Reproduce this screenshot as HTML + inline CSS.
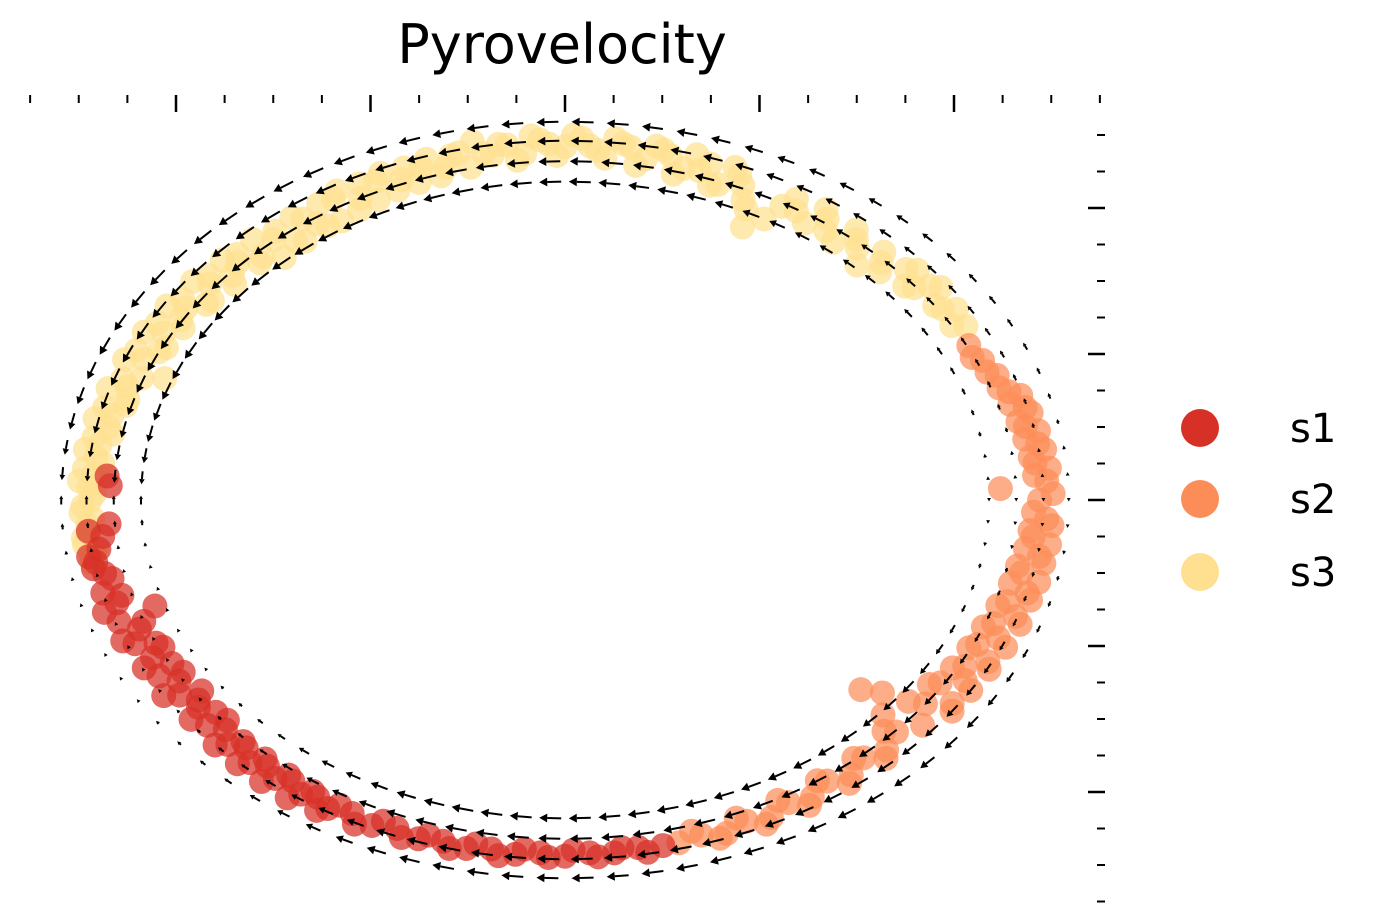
<!DOCTYPE html>
<html><head><meta charset="utf-8"><style>
html,body{margin:0;padding:0;background:#fff;width:1387px;height:923px;overflow:hidden}
svg{display:block}
text{font-family:"DejaVu Sans","Liberation Sans",sans-serif}
</style></head><body>
<svg id="chart" width="1387" height="923" viewBox="0 0 1387 923" xmlns="http://www.w3.org/2000/svg">
<text x="562" y="63" font-size="54" text-anchor="middle" fill="#000">Pyrovelocity</text>
<g id="ticks"></g>
<g id="points"></g>
<g id="arrows"></g>
<g>
 <g><circle cx="1200" cy="428" r="19" fill="#d73027"/><text x="1290" y="442" font-size="40">s1</text></g>
 <g><circle cx="1200" cy="499" r="19" fill="#fc8d59"/><text x="1290" y="513" font-size="40">s2</text></g>
 <g><circle cx="1200" cy="572" r="19" fill="#fee090"/><text x="1290" y="586" font-size="40">s3</text></g>
</g>
</svg>
<script>
// data: polar embedding coordinates (angle in degrees, radius in data units) around center (20,20)
const s1Angles=[185,188,190,193,195,197,199,200,202,204,205,207,209,210,212,214,215,217,219,220,222,224,226,228,230,232,234,236,238,240,243,246,249,252,255,258,261,264,267,270,273,276,279,282,177.6,176,184,191];
const s1Radii=[24.6,24.2,24.5,23.9,24.6,24.1,22.3,24.4,23.6,24.2,23.2,23.8,23.1,24.1,23.4,23.9,22.8,23.6,23.1,24.0,23.5,24.1,23.6,24.2,23.8,24.2,23.8,24.3,24.0,24.4,24.1,24.4,24.1,24.4,24.2,24.4,24.2,24.4,24.2,24.4,24.2,24.3,24.1,24.2,23.4,23.6,23.5,24.7];
const s1bAngles=[186,189,192,196,198,201,203,206,208,211,213,216,218,221,223,225,227,229,231,233,235,237,239,241,244,247,250,253,256,259,262,265,268,271,274,277,280];
const s1bRadii=[23.9,24.8,24.2,23.7,24.9,23.2,24.7,23.0,24.5,22.9,24.6,23.3,24.4,23.0,24.6,23.4,24.7,23.5,24.8,23.6,24.9,23.8,24.8,23.9,24.7,23.9,24.6,24.0,24.6,24.0,24.6,24.0,24.5,24.0,24.5,24.0,24.5];
const s2Angles=[284,287,290,293,296,299,302,305,308,311,314,317,319.5,321,318,320,323,325,327,329,331,333,335,337,339,341,343,345,348,351,354,357,0,3,6,9,12,15,18,21,24,27,2];
const s2Radii=[24.2,24.0,24.3,23.9,24.2,23.7,24.0,23.5,23.9,23.4,23.8,23.3,20.0,21.0,22.0,24.0,23.2,24.3,23.0,24.0,23.5,24.4,23.4,24.2,23.6,24.5,23.8,24.6,24.0,24.7,24.2,24.8,24.4,24.8,24.3,24.6,24.2,24.5,24.0,23.8,23.5,23.3,22.4];
const s2bAngles=[286,289,292,295,298,301,304,307,310,313,316,322,324,326,328,330,332,334,336,338,340,342,344,346,347,349,350,352,353,355,356,358,1,4,5,7,8,10,11,13,14,16,17,19,22,25];
const s2bRadii=[23.6,24.5,23.5,24.5,23.3,24.4,23.2,24.3,23.1,24.2,22.8,22.4,24.6,22.6,24.6,23.0,24.7,23.1,24.8,23.2,24.9,23.4,24.9,23.6,25.0,23.7,25.0,23.9,25.1,24.0,25.1,24.1,25.1,24.2,25.0,24.1,24.9,24.0,24.8,23.9,24.7,23.8,24.5,23.6,23.4,23.1];
const s3Angles=[30,33,35,38,40,42,45,47,50,52,55,57,60,62,64,66,68,70,72,75,78,80,83,86,88,90,93,95,97,100,103,105,108,111,114,117,120,123,125,128,130,133,135,138,140,143,145,148,150,153,155,158,160,163,165,168,170,173,175,178,181,184,187,190];
const s3Radii=[23.8,24.0,23.2,23.8,22.8,23.6,23.0,22.0,23.3,22.4,23.5,22.6,23.8,21.8,20.8,22.5,24.0,23.0,24.2,23.5,24.5,23.7,24.6,24.0,24.8,24.2,24.7,23.8,24.5,24.1,24.4,23.6,24.0,23.5,23.9,23.2,23.8,22.4,23.5,22.5,23.3,22.8,23.8,23.0,23.9,22.7,24.0,23.3,24.2,23.0,24.3,22.2,24.2,23.5,24.5,24.0,24.6,24.3,24.8,24.5,24.8,24.6,24.9,24.7];
const s3bAngles=[31,34,37,39,41,44,46,49,51,54,56,59,61,65,67,69,71,73,74,76,77,79,81,82,84,85,87,89,91,92,94,96,98,99,101,102,104,106,107,109,110,112,113,115,116,118,119,121,122,124,126,127,129,131,132,134,136,137,139,141,142,144,146,147,149,151,152,154,156,157,159,161,162,164,166,167,169,171,172,174,176,177,179,180,182,183,185,186,188,189];
const s3bRadii=[23.2,23.4,24.2,23.1,24.0,22.5,23.6,22.9,23.8,22.8,24.0,23.1,23.0,22.0,23.4,24.4,22.8,23.6,24.6,23.0,24.2,24.7,23.2,24.4,24.9,23.5,24.3,25.0,23.6,24.4,25.0,23.4,24.6,23.9,25.0,23.3,24.3,23.1,24.4,23.0,24.2,22.9,24.3,22.7,24.1,22.5,24.2,22.3,23.9,22.8,23.9,22.2,23.7,22.0,24.0,22.6,23.4,24.1,22.5,23.5,24.3,22.8,23.5,24.4,22.9,23.6,24.5,23.2,23.7,24.6,23.3,23.8,24.7,23.5,24.0,24.8,23.7,24.2,24.9,23.9,24.3,25.0,24.2,24.4,24.9,24.3,24.5,24.9,24.4,24.6];
const arrowAngles=[0,4,8,12,16,20,24,28,32,36,40,44,48,52,56,60,64,68,72,76,80,84,88,92,96,100,104,108,112,116,120,124,128,132,136,140,144,148,152,156,160,164,168,172,176,180,184,188,192,196,200,204,208,212,216,220,224,228,232,236,240,244,248,252,256,260,264,268,272,276,280,284,288,292,296,300,304,308,312,316,320,324,328,332,336,340,344,348,352,356];
const arrowLen=[3,3,4,5,6,7,8,9,10,11,12,13,14,15,16,17,18,19,20,21,21,22,22,22,22,22,22,22,22,22,22,22,22,22,22,21,21,21,20,20,19,18,17,15,13,9,6,4,3,2,2,2,2,3,4,5,7,9,12,14,16,18,20,21,22,22,22,22,22,22,22,22,22,21,21,20,20,19,19,18,17,16,14,12,10,8,6,5,4,3];
const arrowRings=[21.8,23.2,24.6,25.9];
const xMajorTicks=[0,10,20,30,40];
const yMajorTicks=[0,10,20,30,40];

const CX=20, CY=20;
function xs(v){return 176+v*19.45;}
function ys(v){return 792-v*14.6;}
function px(a,r){return xs(CX+r*Math.cos(a*Math.PI/180));}
function py(a,r){return ys(CY+r*Math.sin(a*Math.PI/180));}
const NS='http://www.w3.org/2000/svg';
function mk(tag,attrs,parent){const e=document.createElementNS(NS,tag);for(const k in attrs)e.setAttribute(k,attrs[k]);parent.appendChild(e);return e;}

// ticks
const tg=document.getElementById('ticks');
for(let v=-7.5;v<=47.6;v+=2.5){
  const x=xs(v); const major=xMajorTicks.some(t=>Math.abs(t-v)<1e-6);
  const t=mk('line',{x1:x,x2:x,y1:95,y2:major?112:103,stroke:'#000','stroke-width':major?2.5:2},tg);
  
  
}
for(let v=45;v>=-7.5;v-=2.5){
  const y=ys(v); const major=yMajorTicks.some(t=>Math.abs(t-v)<1e-6);
  const t=mk('line',{x1:major?1088:1097,x2:1105,y1:y,y2:y,stroke:'#000','stroke-width':major?2.5:2},tg);
  
  
}

// points
const pg=document.getElementById('points');
function drawGroup(angles,radii,color,name){
  angles.forEach((a,i)=>{
    const c=mk('circle',{cx:px(a,radii[i]),cy:py(a,radii[i]),r:12.5,fill:color,'fill-opacity':0.72},pg);
    
    
  });
}
drawGroup(s3Angles,s3Radii,'#fee090','point-s3');
drawGroup(s3bAngles,s3bRadii,'#fee090','point-s3');
drawGroup(s2Angles,s2Radii,'#fc8d59','point-s2');
drawGroup(s2bAngles,s2bRadii,'#fc8d59','point-s2');
drawGroup(s1Angles,s1Radii,'#d73027','point-s1');
drawGroup(s1bAngles,s1bRadii,'#d73027','point-s1');

// arrows
const ag=document.getElementById('arrows');
arrowAngles.forEach((a,i)=>{
  const L=arrowLen[i];
  const rad=a*Math.PI/180;
  const sgn=(a>0&&a<180)?1:-1;
  let dx=-Math.sin(rad)*sgn*19.45, dy=-Math.cos(rad)*sgn*14.6;
  const n=Math.hypot(dx,dy); dx/=n; dy/=n;
  arrowRings.forEach(r=>{
    const x0=px(a,r)-dx*L/2, y0=py(a,r)-dy*L/2;
    const x1=x0+dx*L, y1=y0+dy*L;
    const h=Math.min(8,Math.max(3.5,L*0.4)), w=h*0.55;
    const bx=x1-dx*h, by=y1-dy*h;
    const g=mk('g',{},ag);
    
    
    if(L>h) mk('line',{x1:x0,y1:y0,x2:bx,y2:by,stroke:'#000','stroke-width':2},g);
    mk('polygon',{points:`${x1},${y1} ${bx-dy*w},${by+dx*w} ${bx+dy*w},${by-dx*w}`,fill:'#000'},g);
  });
});
</script>
</body></html>
